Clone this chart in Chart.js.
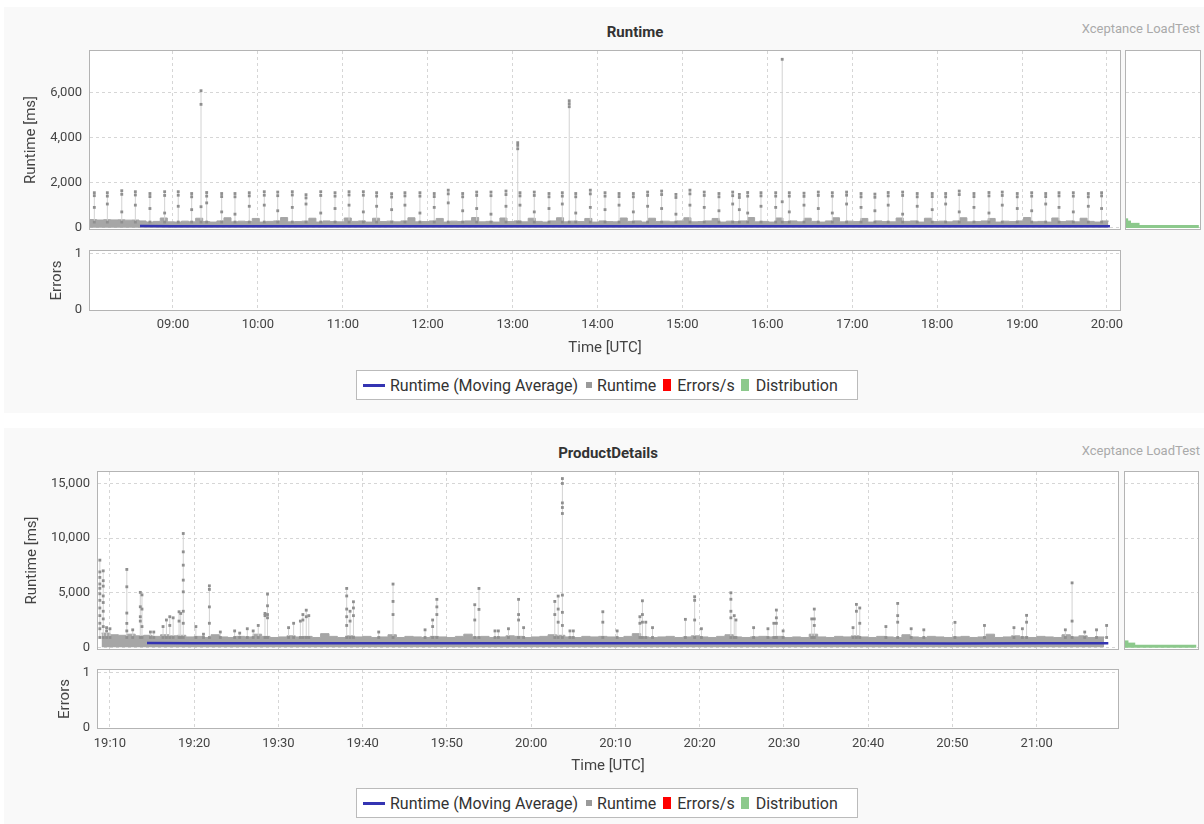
<!DOCTYPE html>
<html>
<head>
<meta charset="utf-8">
<title>Runtime / ProductDetails</title>
<script src="https://cdn.jsdelivr.net/npm/chart.js@4.4.1/dist/chart.umd.min.js"></script>
<style>
  body { margin: 0; background: #fff; font-family: Roboto, "Noto Sans", sans-serif; }
  #page { position: relative; width: 1204px; height: 824px; overflow: hidden; }
  .panel { position: absolute; left: 4px; width: 1200px; background: #f9f9f9; }
  canvas { position: absolute; }
  .title { position: absolute; width: 300px; text-align: center; font-size: 15px; font-weight: bold; color: #333; line-height: 18px; }
  .brand { position: absolute; right: 4px; font-size: 13px; color: #aaa; line-height: 16px; }
  .legend { position: absolute; left: 356px; width: 500px; height: 28px; background: #fff; border: 1px solid #bbb;
            display: flex; align-items: center; font-size: 16px; color: #333; white-space: nowrap; }
  .sw { display: inline-block; flex: none; }
</style>
</head>
<body>
<div id="page">
  <div class="panel" style="top:7px;height:406px"></div>
  <div class="panel" style="top:428px;height:396px"></div>

  <div class="title" style="left:485px;top:23px">Runtime</div>
  <div class="brand" style="top:21px">Xceptance LoadTest</div>
  <canvas id="rt1" width="1136" height="210" style="left:0;top:35px"></canvas>
  <canvas id="dist1" width="80" height="210" style="left:1124px;top:35px"></canvas>
  <canvas id="err1" width="1136" height="127" style="left:0;top:235px"></canvas>
  <div class="legend" id="legend1" style="top:370px"></div>

  <div class="title" style="left:458px;top:444px">ProductDetails</div>
  <div class="brand" style="top:443px">Xceptance LoadTest</div>
  <canvas id="rt2" width="1134" height="209" style="left:0;top:456px"></canvas>
  <canvas id="dist2" width="80" height="209" style="left:1123px;top:456px"></canvas>
  <canvas id="err2" width="1134" height="126" style="left:0;top:654px"></canvas>
  <div class="legend" id="legend2" style="top:788px"></div>
</div>

<script>
// ---- time axes (minutes since midnight) ----
const hourTicks1 = [540, 600, 660, 720, 780, 840, 900, 960, 1020, 1080, 1140, 1200];
const hourLabels1 = ['09:00', '10:00', '11:00', '12:00', '13:00', '14:00', '15:00', '16:00', '17:00', '18:00', '19:00', '20:00'];
const minuteTicks2 = [1150, 1160, 1170, 1180, 1190, 1200, 1210, 1220, 1230, 1240, 1250, 1260];
const minuteLabels2 = ['19:10', '19:20', '19:30', '19:40', '19:50', '20:00', '20:10', '20:20', '20:30', '20:40', '20:50', '21:00'];
const runtimeTicks1 = [0, 2000, 4000, 6000];
const runtimeTicks2 = [0, 5000, 10000, 15000];
const errorTicks = [0, 1];

// ---- Runtime: dense base band (5 min steps from 08:01) ----
const base1Start = 481, base1Step = 5;
const base1 = [
  360, 340, 355, 345, 350, 335, 340,
  300, 250, 280, 430, 260, 250, 290, 260, 420, 270, 250,
  300, 440, 260, 290, 270, 410, 250, 280, 300, 450, 260,
  270, 290, 420, 250, 300, 270, 260, 430, 280, 300, 250,
  420, 270, 290, 260, 300, 440, 260, 270, 300, 410, 250,
  290, 270, 300, 450, 260, 280, 250, 430, 270, 300, 260,
  420, 280, 250, 300, 440, 260, 290, 270, 410, 250, 300,
  270, 260, 430, 280, 300, 250, 420, 270, 290, 260, 300,
  440, 260, 270, 300, 410, 250, 290, 270, 300, 450, 260,
  280, 250, 430, 270, 300, 260, 420, 280, 250, 300, 440,
  260, 290, 270, 410, 250, 300, 270, 260, 430, 280, 300,
  250, 420, 270, 290, 260, 300, 440, 260, 270, 300, 410,
  250, 290, 270, 300, 450, 260, 280, 250, 430, 270, 300,
  260, 420, 280, 250, 300, 280
];
// periodic spikes (about every 10 min)
const spikeTimes1 = [
  484.4, 493.6, 503.8, 513.4, 523.7, 534.1, 543.7, 553.2, 563.8, 574.4,
  583.8, 593.9, 604.5, 614, 624.3, 634, 644.4, 654.5, 664.4, 674.5,
  683.9, 694.5, 703.9, 714.5, 724.6, 734.5, 744.7, 754.6, 764.7, 775.3,
  785.2, 795.3, 805.7, 815.1, 824.6, 834.9, 845.3, 855.2, 865.3, 875.4,
  885.3, 895.4, 905.3, 915.4, 925.8, 935.5, 940.2, 946.1, 955.5, 965.9,
  975.5, 985.9, 996, 1005.9, 1016, 1026.2, 1036, 1045.4, 1055.6, 1065.9,
  1076.5, 1086, 1095.6, 1106, 1116.6, 1126, 1136.6, 1146.8, 1156.7, 1166.1,
  1176.2, 1186.8, 1196.2
];
const spikeTops1 = [
  1552, 1552, 1640, 1596, 1516, 1596, 1596, 1516, 1560, 1516,
  1516, 1552, 1596, 1580, 1596, 1464, 1596, 1552, 1596, 1596,
  1552, 1508, 1552, 1552, 1516, 1664, 1516, 1580, 1580, 1625,
  1552, 1580, 1516, 1552, 1516, 1664, 1552, 1516, 1516, 1580,
  1625, 1476, 1664, 1580, 1516, 1580, 1476, 1560, 1552, 1552,
  1552, 1530, 1580, 1552, 1580, 1516, 1490, 1560, 1580, 1516,
  1516, 1516, 1625, 1516, 1560, 1580, 1516, 1552, 1516, 1552,
  1552, 1516, 1552
];
const spikeSubs1 = [
  1420, 1400, 1480, 1450, 1380, 1430, 1440, 1370, 1400, 1380,
  1370, 1410, 1440, 1420, 1450, 1320, 1430, 1400, 1450, 1440,
  1400, 1360, 1410, 1400, 1380, 1500, 1370, 1430, 1420, 1470,
  1410, 1430, 1370, 1400, 1370, 1500, 1400, 1380, 1370, 1430,
  1470, 1340, 1500, 1430, 1370, 1420, 1340, 1400, 1410, 1400,
  1400, 1390, 1430, 1400, 1440, 1370, 1350, 1410, 1430, 1370,
  1380, 1370, 1470, 1380, 1410, 1430, 1370, 1400, 1380, 1410,
  1400, 1370, 1410
];
const spikeMids1 = [
  900, 1050, 700, 1000, 850, 650, 950, 800, 1100, 700,
  600, 950, 1000, 750, 900, 1050, 650, 850, 1000, 700,
  950, 800, 1000, 650, 900, 1100, 750, 850, 600, 950,
  1000, 700, 850, 1050, 650, 900, 800, 1000, 700, 950,
  850, 600, 1000, 900, 750, 1050, 800, 650, 950, 900,
  700, 1000, 850, 650, 1050, 900, 750, 1000, 600, 950,
  800, 1050, 700, 900, 650, 1000, 850, 750, 1050, 900,
  700, 950, 850
];
const bigSpikeTimes1 = [559.8, 783.6, 820.0, 970.5];
const bigSpikeVals1 = [[6075, 5470, 930], [3770, 3650, 3500], [5630, 5500, 5365], [7468, 1150]];
const avgTimes1 = [516.7, 540, 600, 660, 720, 780, 840, 900, 960, 1020, 1080, 1140, 1202.1];
const avgVals1 = [70, 65, 62, 60, 61, 63, 62, 60, 61, 62, 60, 61, 60];
const distBins1 = [50, 150, 250, 350];
const distCounts1 = [9600, 1750, 620, 240];
const errors1 = [];

// ---- ProductDetails: base band (1 min steps from 19:09) ----
const base2Start = 1149, base2Step = 1;
const base2 = [
  1300, 1150, 1100, 1200, 1050, 1100, 1000, 1150, 1050, 1100,
  950, 1000, 900, 1150, 950, 900, 1000, 950, 1200, 1000,
  900, 950, 1050, 950, 1000, 900, 1250, 1000, 900, 1050,
  950, 1000, 900, 950, 1150, 900, 1000, 950, 900, 1000,
  950, 900, 1000, 1200, 950, 1000, 900, 950, 1050, 1000,
  900, 950, 1000, 1150, 1100, 950, 900, 1000, 950, 1000,
  950, 900, 1000, 1250, 950, 900, 950, 1000, 900, 950,
  1050, 950, 900, 1000, 1150, 950, 900, 950, 1000, 950,
  1000, 900, 950, 900, 1200, 950, 900, 1000, 950, 1050,
  950, 900, 1000, 950, 900, 1150, 950, 900, 1000, 950,
  900, 950, 1000, 900, 950, 1200, 900, 950, 1050, 950,
  900, 1000, 950, 900, 1150, 950, 1050, 900, 950, 900
];
const pdSpikeTimes = [
  1148.8, 1149.2, 1149.6, 1150.0, 1152.0, 1152.7, 1153.6, 1153.8, 1154.8, 1155.2,
  1156.3, 1156.7, 1157.1, 1157.5, 1158.2, 1158.4, 1158.7, 1160.2, 1161.1, 1161.8,
  1163.1, 1164.8, 1165.4, 1166.3, 1167.0, 1167.6, 1168.4, 1168.7, 1171.2, 1171.8,
  1172.6, 1172.9, 1173.3, 1173.6, 1178.1, 1178.5, 1178.9, 1181.9, 1183.6, 1187.4,
  1188.3, 1188.8, 1193.3, 1193.8, 1195.7, 1196.1, 1197.3, 1198.5, 1199.1, 1202.8,
  1203.2, 1203.7, 1204.6, 1205.0, 1208.5, 1210.2, 1212.9, 1213.2, 1213.6, 1214.4,
  1218.3, 1219.4, 1220.2, 1223.7, 1224.1, 1224.3, 1226.4, 1228.1, 1228.8, 1229.1,
  1229.9, 1233.3, 1233.6, 1238.2, 1238.6, 1239.0, 1242.1, 1243.5, 1245.1, 1246.6,
  1250.3, 1253.8, 1257.3, 1258.3, 1258.8, 1263.4, 1264.2, 1265.7, 1267.1, 1268.3
];
const pdSpikeVals = [
  [7980, 6900, 6400, 5800, 5400, 4900, 4300, 3600, 2900, 2200, 1700], [7000, 6100, 5600, 4700, 4100, 3300, 2600, 1900], [1800, 1500], [1700], [7130, 5540, 3135, 2190, 1500], [1600], [5030, 3710, 2800, 2400], [4800, 3500, 1900], [1400], [1400],
  [1900], [2500], [2800, 2000], [2700], [3255, 2400], [3100], [10420, 8740, 7520, 6150, 5080, 3300, 2200], [1900], [1200], [5630, 5300, 3700, 2200],
  [1400], [1500], [1300], [1700], [1500], [2000], [3100, 2900], [4870, 3800, 3000, 2700], [1800], [2200],
  [2400], [3000, 2500], [3400, 2800], [2900], [5390, 4700, 3500, 2800, 2000], [3300, 2400], [4170, 3600, 2900], [1400], [5790, 4200, 3000], [1600],
  [2500, 1900], [4390, 3700, 3000], [3900, 2500], [5390, 3470], [1500], [1500], [1700], [4390, 3000, 2500], [1800], [4200, 3000],
  [4690, 3500, 2300], [15450, 15000, 13220, 12800, 12250, 4780, 3200, 2000], [1500], [1500], [3255, 2300], [1500], [2800, 2200], [4260, 3000, 2300], [2300], [1800],
  [2560], [4630, 4300, 2500], [1700], [4990, 4400, 3300, 2700], [2900], [2500], [1800], [1700], [2200], [3410, 2700, 2200],
  [1500], [2600], [3500, 2600, 2000], [1800], [3930, 3300], [3600, 2200], [1900], [4020, 2900, 2300], [1700], [1600],
  [2285], [2000], [1800], [1700], [2925, 2300], [1600], [5900, 2400], [1400], [1600], [2000]
];
const avgTimes2 = [1154.4, 1160, 1170, 1180, 1190, 1200, 1210, 1220, 1230, 1240, 1250, 1260, 1268.5];
const avgVals2 = [400, 380, 370, 365, 360, 365, 370, 360, 362, 360, 358, 360, 360];
const distBins2 = [100, 300, 500];
const distCounts2 = [6800, 950, 300];
const errors2 = [];

// legend
const legendNames = ['Runtime (Moving Average)', 'Runtime', 'Errors/s', 'Distribution'];
const legendColors = ['#3434b2', '#9a9a9a', '#ff0000', '#8cc98c'];

// ---------------------------------------------------------------
const GRID = '#d6d6d6';
const TICK = '#444';

const plotFrame = {
  id: 'plotFrame',
  beforeDraw(chart) {
    const { ctx, chartArea: a } = chart;
    ctx.save();
    ctx.fillStyle = '#fff';
    ctx.fillRect(a.left, a.top, a.width, a.height);
    ctx.restore();
  },
  afterDraw(chart) {
    const { ctx, chartArea: a } = chart;
    ctx.save();
    ctx.strokeStyle = '#b4b4b4';
    ctx.lineWidth = 1;
    ctx.strokeRect(Math.round(a.left) - 0.5, Math.round(a.top) - 0.5, Math.round(a.width) + 1, Math.round(a.height) + 1);
    ctx.restore();
  }
};

function bandData(start, step, vals) {
  return vals.map((v, i) => ({ x: start + i * step, y: v }));
}

function spikeData(times, floor, columns) {
  const pts = [];
  times.forEach((t, i) => {
    pts.push({ x: t, y: floor });
    columns[i].slice().sort((a, b) => a - b).forEach(v => pts.push({ x: t, y: v }));
    pts.push({ x: t, y: null });
  });
  return pts;
}

function lineData(xs, ys) {
  return xs.map((x, i) => ({ x: x, y: ys[i] }));
}

function setTicks(list) {
  return axis => { axis.ticks = list.map(v => ({ value: v })); };
}

function grid() {
  return { color: GRID, lineWidth: 1, drawTicks: false, offset: false };
}

const spikeStyle = {
  showLine: true, spanGaps: false, borderColor: '#d2d2d2', borderWidth: 1,
  pointStyle: 'rect', pointRadius: 2, pointBackgroundColor: '#8f8f8f', pointBorderWidth: 0, order: 1
};

function runtimeChart(id, c) {
  return new Chart(document.getElementById(id), {
    type: 'line',
    data: {
      datasets: [
        { label: 'Runtime (Moving Average)', data: c.avg, borderColor: '#3434b2', borderWidth: 2.5, pointRadius: 0, order: 0 },
        Object.assign({ label: 'Runtime', data: c.spikes }, spikeStyle),
        Object.assign({ label: 'Runtime peaks', data: c.peaks }, spikeStyle),
        { label: 'Runtime band', data: c.band, stepped: true, fill: 'origin', backgroundColor: '#a6a6a6',
          borderColor: '#a6a6a6', borderWidth: 1, pointRadius: 0, order: 2 }
      ]
    },
    options: {
      responsive: false, animation: false, events: [],
      layout: { padding: { top: 16, bottom: 16, left: 0, right: 16 } },
      plugins: { legend: { display: false }, tooltip: { enabled: false } },
      scales: {
        x: {
          type: 'linear', min: c.xMin, max: c.xMax, afterBuildTicks: setTicks(c.xTicks),
          ticks: { display: false }, grid: grid(), border: { display: false, dash: [3, 3] }
        },
        y: {
          min: c.yMin, max: c.yMax, afterBuildTicks: setTicks(c.yTicks),
          afterFit: axis => { axis.width = c.axisW; },
          ticks: { padding: 8, color: TICK, font: { size: 13 }, callback: v => v.toLocaleString('en-US') },
          grid: grid(), border: { display: false, dash: [3, 3] },
          title: { display: true, text: 'Runtime [ms]', color: TICK, font: { size: 15 }, padding: { top: c.titlePad, bottom: 0 } }
        }
      }
    },
    plugins: [plotFrame]
  });
}

function distChart(id, c) {
  return new Chart(document.getElementById(id), {
    type: 'bar',
    data: {
      datasets: [{ label: 'Distribution', data: lineData(c.counts, c.bins), backgroundColor: '#8cc98c',
                   barPercentage: 1, categoryPercentage: 1 }]
    },
    options: {
      indexAxis: 'y', responsive: false, animation: false, events: [],
      layout: { padding: c.pad },
      plugins: { legend: { display: false }, tooltip: { enabled: false } },
      scales: {
        x: { type: 'linear', min: 0, max: c.xMax, display: false },
        y: {
          type: 'linear', offset: false, min: c.yMin, max: c.yMax, afterBuildTicks: setTicks(c.yTicks),
          afterFit: axis => { axis.width = 0; },
          ticks: { display: false }, grid: grid(), border: { display: false, dash: [3, 3] }
        }
      }
    },
    plugins: [plotFrame]
  });
}

function errorChart(id, c) {
  return new Chart(document.getElementById(id), {
    type: 'bar',
    data: { datasets: [{ label: 'Errors/s', data: c.errors, backgroundColor: '#ff0000' }] },
    options: {
      responsive: false, animation: false, events: [],
      layout: { padding: { top: 16, bottom: 0, left: 0, right: 16 } },
      plugins: { legend: { display: false }, tooltip: { enabled: false } },
      scales: {
        x: {
          type: 'linear', offset: false, min: c.xMin, max: c.xMax, afterBuildTicks: setTicks(c.xTicks),
          afterFit: axis => { axis.height = 52; },
          ticks: { padding: c.tickPad, color: TICK, font: { size: 13 }, maxRotation: 0, autoSkip: false,
                   callback: (v, i) => c.xLabels[i] },
          grid: grid(), border: { display: false, dash: [3, 3] },
          title: { display: true, text: 'Time [UTC]', color: TICK, font: { size: 15 }, padding: { top: 0, bottom: c.timePad } }
        },
        y: {
          min: 0, max: 1.05, afterBuildTicks: setTicks(errorTicks),
          afterFit: axis => { axis.width = c.axisW; },
          ticks: { padding: 8, color: TICK, font: { size: 13 } },
          grid: grid(), border: { display: false, dash: [3, 3] },
          title: { display: true, text: 'Errors', color: TICK, font: { size: 15 }, padding: { top: c.titlePad, bottom: 0 } }
        }
      }
    },
    plugins: [plotFrame]
  });
}

function buildLegend(id) {
  const box = document.getElementById(id);
  const marks = [
    'width:22px;height:3px;margin:0 5px 0 6px',
    'width:6px;height:6px;margin:0 5px 0 8px',
    'width:8px;height:12px;margin:0 6px 0 7px',
    'width:8px;height:12px;margin:0 7px 0 6px'
  ];
  legendNames.forEach((name, i) => {
    const sw = document.createElement('span');
    sw.className = 'sw';
    sw.style.cssText = marks[i] + ';background:' + legendColors[i];
    const tx = document.createElement('span');
    tx.textContent = name;
    box.appendChild(sw);
    box.appendChild(tx);
  });
}

Chart.defaults.font.family = 'Roboto, "Noto Sans", sans-serif';

// ---- panel 1: Runtime ----
const x1 = { min: 481.35, max: 1209.2 };
runtimeChart('rt1', {
  avg: lineData(avgTimes1, avgVals1),
  spikes: spikeData(spikeTimes1, 250, spikeTimes1.map((t, i) => [spikeMids1[i], spikeSubs1[i], spikeTops1[i]])),
  peaks: spikeData(bigSpikeTimes1, 250, bigSpikeVals1),
  band: bandData(base1Start, base1Step, base1),
  xMin: x1.min, xMax: x1.max, xTicks: hourTicks1,
  yMin: -58, yMax: 7836, yTicks: runtimeTicks1, axisW: 90, titlePad: 22
});
distChart('dist1', {
  bins: distBins1, counts: distCounts1, xMax: 9800,
  yMin: -58, yMax: 7836, yTicks: runtimeTicks1,
  pad: { top: 16, bottom: 16, left: 2, right: 4 }
});
errorChart('err1', {
  errors: errors1, xMin: x1.min, xMax: x1.max, xTicks: hourTicks1, xLabels: hourLabels1,
  axisW: 90, titlePad: 48, tickPad: 7, timePad: 5
});
buildLegend('legend1');

// ---- panel 2: ProductDetails ----
const x2 = { min: 1148.58, max: 1269.65 };
runtimeChart('rt2', {
  avg: lineData(avgTimes2, avgVals2),
  spikes: spikeData(pdSpikeTimes, 900, pdSpikeVals),
  peaks: [],
  band: bandData(base2Start, base2Step, base2),
  xMin: x2.min, xMax: x2.max, xTicks: minuteTicks2,
  yMin: -155, yMax: 16050, yTicks: runtimeTicks2, axisW: 98, titlePad: 23
});
distChart('dist2', {
  bins: distBins2, counts: distCounts2, xMax: 7000,
  yMin: -155, yMax: 16050, yTicks: runtimeTicks2,
  pad: { top: 16, bottom: 16, left: 2, right: 5 }
});
errorChart('err2', {
  errors: errors2, xMin: x2.min, xMax: x2.max, xTicks: minuteTicks2, xLabels: minuteLabels2,
  axisW: 98, titlePad: 56, tickPad: 8, timePad: 4.5
});
buildLegend('legend2');
</script>
</body>
</html>
